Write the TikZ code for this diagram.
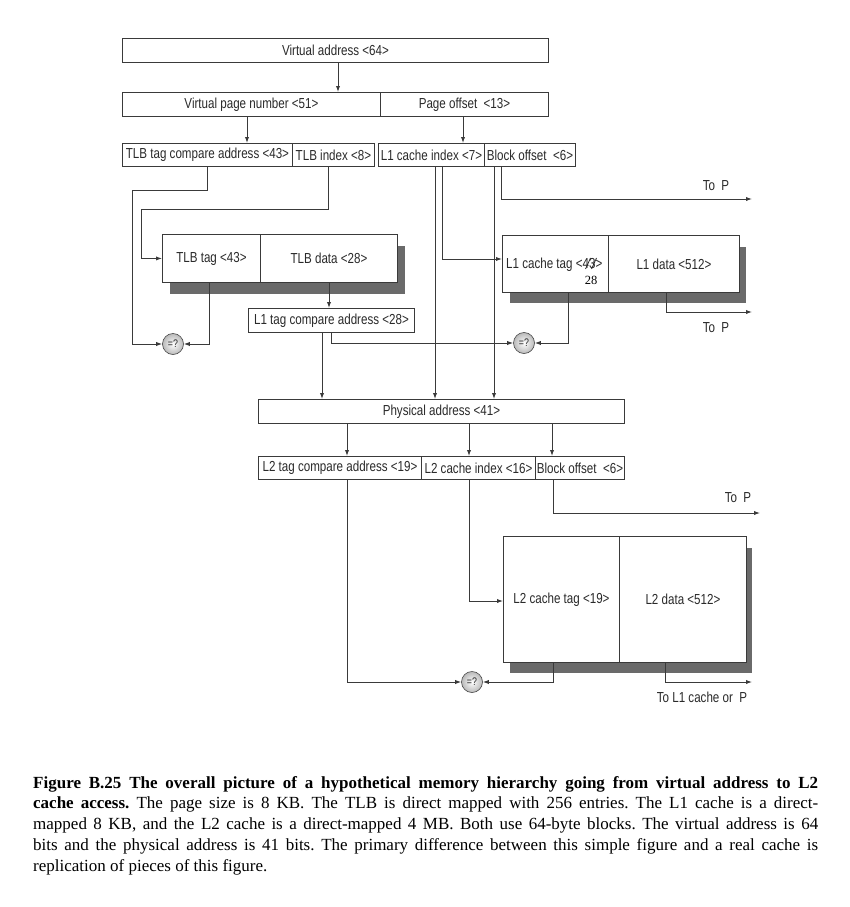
\documentclass[tikz,border=0pt]{standalone}
\usepackage{fontspec}
\setmainfont{Liberation Serif}
\newfontfamily\diag[FakeStretch=0.8]{Liberation Sans}
\usetikzlibrary{arrows.meta}
\definecolor{linec}{HTML}{3A3A3A}
\definecolor{txtc}{HTML}{2A2A2A}
\definecolor{shadc}{HTML}{6A6A6A}
\tikzset{
  cell/.style={draw=linec, fill=white, line width=0.9pt, inner sep=0pt, anchor=north west,
    font=\diag\fontsize{14.5}{16}\selectfont, text=txtc},
  conn/.style={draw=linec, line width=0.9pt},
  arr/.style={conn, -{Latex[length=6pt,width=4.2pt]}},
  shad/.style={fill=shadc, draw=none},
  cmp/.style={circle, minimum size=21pt, inner sep=0pt, draw=gray!55!black, line width=0.6pt,
    inner color=white, outer color=gray!55, font=\diag\fontsize{11}{12}\selectfont, text=txtc},
  lbl/.style={inner sep=0pt, font=\diag\fontsize{14.5}{16}\selectfont, text=txtc}
}
\begin{document}
\begin{tikzpicture}[x=1pt,y=-1pt]
\useasboundingbox[fill=white] (0,0) rectangle (849,907);

% row 1
\node[cell, minimum width=426pt, minimum height=24pt] (va) at (122,38) {Virtual address <64>};
% row 2
\node[cell, minimum width=258pt, minimum height=24pt] (vpn) at (122,92) {Virtual page number <51>};
\node[cell, minimum width=168pt, minimum height=24pt] (po) at (380,92) {Page offset\ \ <13>};
% row 3
\node[cell, minimum width=170pt, minimum height=23pt] (tca) at (122,143) {TLB tag compare address <43>};
\node[cell, minimum width=82pt, minimum height=23pt] (tidx) at (292,143) {TLB index <8>};
\node[cell, minimum width=106pt, minimum height=23pt] (l1idx) at (378,143) {L1 cache index <7>};
\node[cell, minimum width=91pt, minimum height=23pt] (boff1) at (484,143) {Block offset\ \ <6>};

% TLB
\fill[shad] (170,246) rectangle (405,294);
\node[cell, minimum width=98pt, minimum height=48pt] (tlbtag) at (162,234) {TLB tag <43>};
\node[cell, minimum width=137pt, minimum height=48pt] (tlbdata) at (260,234) {TLB data <28>};

\node[cell, minimum width=166pt, minimum height=24pt] (l1tca) at (248,308) {L1 tag compare address <28>};

% L1 cache
\fill[shad] (510,247) rectangle (746,303);
\node[cell, minimum width=106pt, minimum height=57pt] (l1tag) at (502,235) {};
\node[lbl, anchor=base west] (l1tagtxt) at (506,268) {L1 cache tag <43>};
\draw[txtc, line width=0.8pt] ([shift={(-17,1)}]l1tagtxt.base east) -- ([shift={(-12,-10)}]l1tagtxt.base east);
\draw[txtc, line width=0.8pt] ([shift={(-11,1)}]l1tagtxt.base east) -- ([shift={(-6,-10)}]l1tagtxt.base east);
\node[inner sep=0pt, font=\fontsize{12.5}{13}\selectfont, text=black] (l1tag28) at (591,280) {28};
\node[cell, minimum width=131pt, minimum height=57pt] (l1data) at (608,235) {L1 data <512>};

% physical
\node[cell, minimum width=366pt, minimum height=24pt] (pa) at (258,399) {Physical address <41>};
\node[cell, minimum width=163pt, minimum height=23pt] (l2tca) at (258,456) {L2 tag compare address <19>};
\node[cell, minimum width=114pt, minimum height=23pt] (l2idx) at (421,456) {L2 cache index <16>};
\node[cell, minimum width=89pt, minimum height=23pt] (boff2) at (535,456) {Block offset\ \ <6>};

% L2 cache
\fill[shad] (510,548) rectangle (752,673);
\node[cell, minimum width=116pt, minimum height=126pt] (l2tag) at (503,536) {L2 cache tag <19>};
\node[cell, minimum width=127pt, minimum height=126pt] (l2data) at (619,536) {L2 data <512>};

% comparators
\node[cmp] (cmp1) at (173,344) {=?};
\node[cmp] (cmp2) at (524,343) {=?};
\node[cmp] (cmp3) at (472,682) {=?};

% To P labels
\node[lbl] (top1) at (716,186) {To\ \ P};
\node[lbl] (top2) at (716,328) {To\ \ P};
\node[lbl] (top3) at (738,498) {To\ \ P};
\node[lbl] (tol1) at (702,697) {To L1 cache or\ \ P};

\coordinate (p1) at (752,199);
\coordinate (p2) at (752,312);
\coordinate (p3) at (760,513);
\coordinate (p4) at (752,682);

% connectors
\draw[arr] (338,0 |- va.south) -- (338,0 |- vpn.north);
\draw[arr] (247,0 |- vpn.south) -- (247,0 |- tca.north);
\draw[arr] (463,0 |- po.south) -- (463,0 |- l1idx.north);

\draw[arr] (207,0 |- tca.south) -- (207,190) -- (132,190) |- (cmp1.west);
\draw[arr] (328,0 |- tidx.south) -- (328,209) -- (141,209) |- (tlbtag.west);
\draw[arr] (209,0 |- tlbtag.south) |- (cmp1.east);
\draw[arr] (329,0 |- tlbdata.south) -- (329,0 |- l1tca.north);

\draw[arr] (322,0 |- l1tca.south) -- (322,0 |- pa.north);
\draw[arr] (331,0 |- l1tca.south) |- (cmp2.west);

\draw[arr] (435,0 |- l1idx.south) -- (435,0 |- pa.north);
\draw[arr] (442,0 |- l1idx.south) -- (442,259) -- (l1tag.west |- 0,259);
\draw[arr] (494,0 |- boff1.south) -- (494,0 |- pa.north);
\draw[arr] (501,0 |- boff1.south) |- (p1);

\draw[arr] (568,0 |- l1tag.south) |- (cmp2.east);
\draw[arr] (666,0 |- l1data.south) |- (p2);

\draw[arr] (347,0 |- pa.south) -- (347,0 |- l2tca.north);
\draw[arr] (469,0 |- pa.south) -- (469,0 |- l2idx.north);
\draw[arr] (552,0 |- pa.south) -- (552,0 |- boff2.north);

\draw[arr] (347,0 |- l2tca.south) |- (cmp3.west);
\draw[arr] (469,0 |- l2idx.south) -- (469,601) -- (l2tag.west |- 0,601);
\draw[arr] (553,0 |- boff2.south) |- (p3);
\draw[arr] (553,0 |- l2tag.south) |- (cmp3.east);
\draw[arr] (665,0 |- l2data.south) |- (p4);

% caption
\node[anchor=north west, inner sep=0pt, text width=785pt, align=justify,
  font=\fontsize{17}{20.8}\selectfont] (cap) at (33,776)
{\frenchspacing\textbf{Figure B.25 The overall picture of a hypothetical memory hierarchy going from virtual address to L2\linebreak cache access.} The page size is 8 KB. The TLB is direct mapped with 256 entries. The L1 cache is a direct-\linebreak mapped 8 KB, and the L2 cache is a direct-mapped 4 MB. Both use 64-byte blocks. The virtual address is 64\linebreak bits and the physical address is 41 bits. The primary difference between this simple figure and a real cache is\linebreak replication of pieces of this figure.\par};
\end{tikzpicture}
\end{document}
